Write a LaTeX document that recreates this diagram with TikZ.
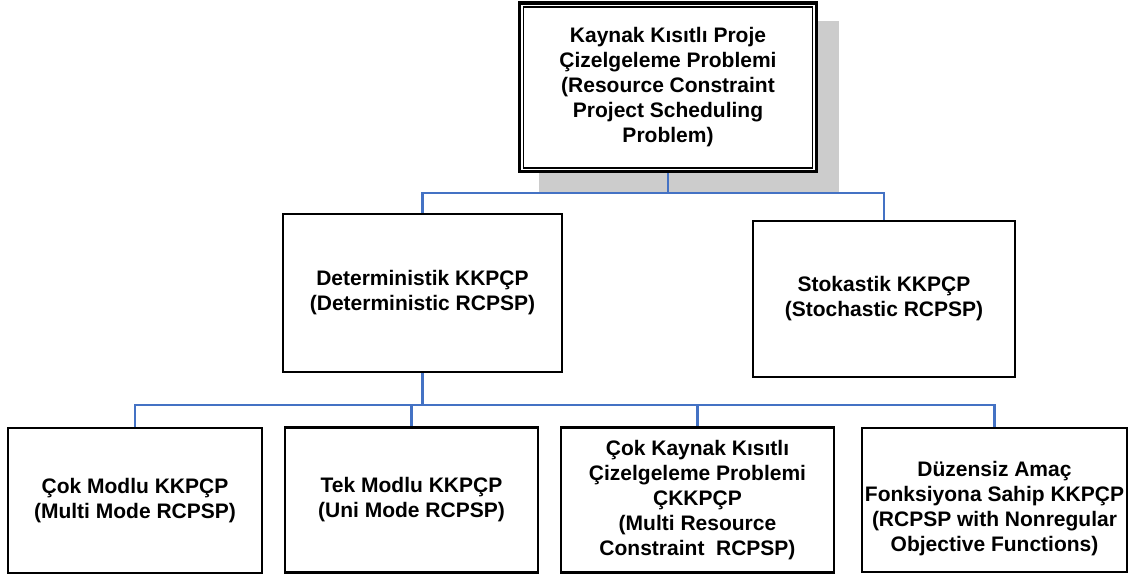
\documentclass[tikz,border=0pt]{standalone}
\usepackage{fontspec}
\setmainfont{Liberation Sans}
\usetikzlibrary{backgrounds}
\definecolor{linkblue}{HTML}{4472C4}
\definecolor{shadegray}{HTML}{CCCCCC}
\tikzset{
  boxtext/.style={font=\bfseries\fontsize{21}{25}\selectfont, align=center, inner xsep=2pt, inner ysep=2pt},
  box/.style={boxtext, draw=black, line width=2.8pt, fill=white},
  link/.style={draw=linkblue, line width=2.3pt},
  trunk/.style={draw=linkblue, line width=3.3pt}
}
\begin{document}
\begin{tikzpicture}[x=1pt, y=-1pt]
\useasboundingbox (0,0) rectangle (1146,579);

% root box: outer edge of the thick-thin frame
\node[boxtext, fill=white, minimum width=300pt, minimum height=171.6pt] (top) at (668,87.4)
  {Kaynak Kısıtlı Proje\\Çizelgeleme Problemi\\(Resource Constraint\\Project Scheduling\\Problem)};
\draw[line width=3.4pt] ([shift={(1.7,1.7)}]top.north west) rectangle ([shift={(-1.7,-1.7)}]top.south east);
\draw[line width=1.6pt] ([shift={(5.7,5.7)}]top.north west) rectangle ([shift={(-5.7,-5.7)}]top.south east);

% second level
\node[box, minimum width=279pt, minimum height=158pt] (det) at (422.5,293)
  {Deterministik KKPÇP\\(Deterministic RCPSP)};
\node[box, minimum width=262pt, minimum height=156pt] (sto) at (884,299)
  {Stokastik KKPÇP\\(Stochastic RCPSP)};

% third level
\node[box, minimum width=254pt, minimum height=145pt] (b1) at (135,500.5)
  {Çok Modlu KKPÇP\\(Multi Mode RCPSP)};
\node[box, minimum width=253pt, minimum height=145pt] (b2) at (411.5,500)
  {Tek Modlu KKPÇP\\(Uni Mode RCPSP)};
\node[box, minimum width=273pt, minimum height=145pt] (b3) at (697.5,500)
  {Çok Kaynak Kısıtlı\\Çizelgeleme Problemi\\ÇKKPÇP\\(Multi Resource\\Constraint\ \ RCPSP)};
\node[box, minimum width=265pt, minimum height=144pt] (b4) at (994.5,500) {};
\node[boxtext] (b4text) at (994.5,509)
  {Düzensiz Amaç\\Fonksiyona Sahip KKPÇP\\(RCPSP with Nonregular\\Objective Functions)};

\coordinate (j1) at (668,193);
\coordinate (j2) at (422.5,405);

\begin{scope}[on background layer]
  % drop shadow of the root box
  \fill[shadegray] ([shift={(21,20)}]top.north west) rectangle ([shift={(21,20)}]top.south east);
  % connectors
  \draw[link] (top.south) -- (j1);
  \draw[link] (det.north) |- (j1) -| (sto.north);
  \draw[trunk] (det.south) -- (j2);
  \draw[link] (b1.north) |- (j2) -| (b4.north);
  \draw[link] (b2.north) -- (b2.north |- j2);
  \draw[link] (b3.north) -- (b3.north |- j2);
\end{scope}
\end{tikzpicture}
\end{document}
